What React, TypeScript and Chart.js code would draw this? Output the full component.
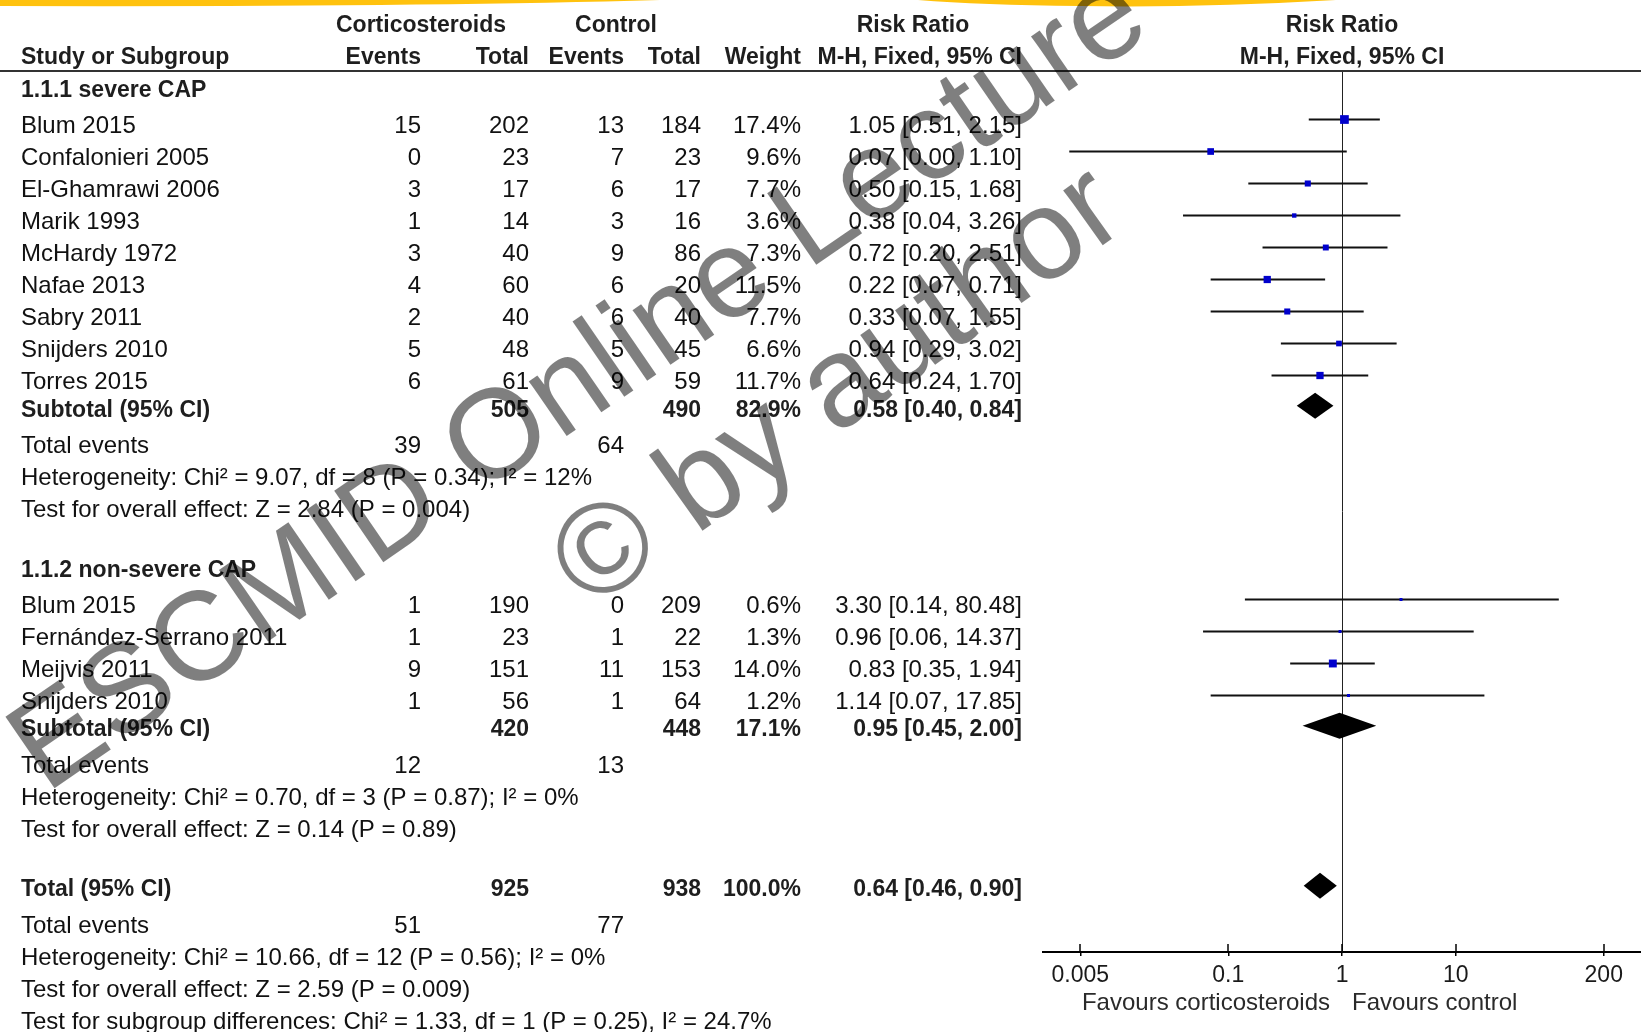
import React, { useEffect, useRef } from 'react';
import { Chart, registerables } from 'chart.js';

Chart.register(...registerables);

const FONT = '"Liberation Sans", Arial, Helvetica, sans-serif';

// ---------- data ----------
// Subgroup 1.1.1 severe CAP
const g1Names = ['Blum 2015', 'Confalonieri 2005', 'El-Ghamrawi 2006', 'Marik 1993', 'McHardy 1972', 'Nafae 2013', 'Sabry 2011', 'Snijders 2010', 'Torres 2015'];
const g1EventsC = [15, 0, 3, 1, 3, 4, 2, 5, 6];
const g1TotalC = [202, 23, 17, 14, 40, 60, 40, 48, 61];
const g1EventsK = [13, 7, 6, 3, 9, 6, 6, 5, 9];
const g1TotalK = [184, 23, 17, 16, 86, 20, 40, 45, 59];
const g1Weight = [17.4, 9.6, 7.7, 3.6, 7.3, 11.5, 7.7, 6.6, 11.7];
const g1RR = [1.05, 0.07, 0.5, 0.38, 0.72, 0.22, 0.33, 0.94, 0.64];
const g1Lo = [0.51, 0.004, 0.15, 0.04, 0.2, 0.07, 0.07, 0.29, 0.24];
const g1Hi = [2.15, 1.1, 1.68, 3.26, 2.51, 0.71, 1.55, 3.02, 1.7];

// Subgroup 1.1.2 non-severe CAP
const g2Names = ['Blum 2015', 'Fernández-Serrano 2011', 'Meijvis 2011', 'Snijders 2010'];
const g2EventsC = [1, 1, 9, 1];
const g2TotalC = [190, 23, 151, 56];
const g2EventsK = [0, 1, 11, 1];
const g2TotalK = [209, 22, 153, 64];
const g2Weight = [0.6, 1.3, 14.0, 1.2];
const g2RR = [3.3, 0.96, 0.83, 1.14];
const g2Lo = [0.14, 0.06, 0.35, 0.07];
const g2Hi = [80.48, 14.37, 1.94, 17.85];

// Pooled results: [subgroup 1, subgroup 2, overall]
const pooledLabels = ['Subtotal (95% CI)', 'Subtotal (95% CI)', 'Total (95% CI)'];
const pooledTotalC = [505, 420, 925];
const pooledTotalK = [490, 448, 938];
const pooledWeight = [82.9, 17.1, 100.0];
const pooledRR = [0.58, 0.95, 0.64];
const pooledLo = [0.4, 0.45, 0.46];
const pooledHi = [0.84, 2.0, 0.9];
const pooledEventsC = [39, 12, 51];
const pooledEventsK = [64, 13, 77];
const pooledHet = [
  'Heterogeneity: Chi² = 9.07, df = 8 (P = 0.34); I² = 12%',
  'Heterogeneity: Chi² = 0.70, df = 3 (P = 0.87); I² = 0%',
  'Heterogeneity: Chi² = 10.66, df = 12 (P = 0.56); I² = 0%',
];
const pooledTest = [
  'Test for overall effect: Z = 2.84 (P = 0.004)',
  'Test for overall effect: Z = 0.14 (P = 0.89)',
  'Test for overall effect: Z = 2.59 (P = 0.009)',
];
const subgroupTest = 'Test for subgroup differences: Chi² = 1.33, df = 1 (P = 0.25), I² = 24.7%';
const groupTitles = ['1.1.1 severe CAP', '1.1.2 non-severe CAP'];

// Axis
const tickValues = [0.005, 0.1, 1, 10, 200];
const tickLabels = ['0.005', '0.1', '1', '10', '200'];
const favourLeft = 'Favours corticosteroids';
const favourRight = 'Favours control';

// ---------- layout (row positions in row units) ----------
type Cell = { t: string; col: keyof typeof COL; bold?: boolean };
type Row = { y: number; cells: Cell[] };
const COL = { name: 21, eC: 421, tC: 529, eK: 624, tK: 701, w: 801, rr: 1022 };
const X_MIN = 0.00235;
const X_MAX = 425;
const Y_MIN = -1.516;
const Y_MAX = 26.016;
const TEXT_DY = 6.5;

const fmtCI = (r: number, l: number, h: number) => `${r.toFixed(2)} [${l.toFixed(2)}, ${h.toFixed(2)}]`;

type Study = { y: number; rr: number; lo: number; hi: number; w: number };
const rows: Row[] = [];
const studies: Study[] = [];
const pooled: { y: number; rr: number; lo: number; hi: number }[] = [];

(function build() {
  let y = -1.1;
  const groups = [
    { names: g1Names, eC: g1EventsC, tC: g1TotalC, eK: g1EventsK, tK: g1TotalK, w: g1Weight, rr: g1RR, lo: g1Lo, hi: g1Hi },
    { names: g2Names, eC: g2EventsC, tC: g2TotalC, eK: g2EventsK, tK: g2TotalK, w: g2Weight, rr: g2RR, lo: g2Lo, hi: g2Hi },
  ];
  const pooledBlock = (k: number, yy: number) => {
    rows.push({
      y: yy,
      cells: [
        { t: pooledLabels[k], col: 'name', bold: true },
        { t: String(pooledTotalC[k]), col: 'tC', bold: true },
        { t: String(pooledTotalK[k]), col: 'tK', bold: true },
        { t: pooledWeight[k].toFixed(1) + '%', col: 'w', bold: true },
        { t: fmtCI(pooledRR[k], pooledLo[k], pooledHi[k]), col: 'rr', bold: true },
      ],
    });
    pooled.push({ y: yy, rr: pooledRR[k], lo: pooledLo[k], hi: pooledHi[k] });
    yy += 1.12;
    rows.push({ y: yy, cells: [{ t: 'Total events', col: 'name' }, { t: String(pooledEventsC[k]), col: 'eC' }, { t: String(pooledEventsK[k]), col: 'eK' }] });
    yy += 1;
    rows.push({ y: yy, cells: [{ t: pooledHet[k], col: 'name' }] });
    yy += 1;
    rows.push({ y: yy, cells: [{ t: pooledTest[k], col: 'name' }] });
    return yy;
  };
  groups.forEach((g, gi) => {
    rows.push({ y, cells: [{ t: groupTitles[gi], col: 'name', bold: true }] });
    y += 1.1;
    g.names.forEach((n, i) => {
      if (i > 0) y += 1;
      rows.push({
        y,
        cells: [
          { t: n, col: 'name' },
          { t: String(g.eC[i]), col: 'eC' },
          { t: String(g.tC[i]), col: 'tC' },
          { t: String(g.eK[i]), col: 'eK' },
          { t: String(g.tK[i]), col: 'tK' },
          { t: g.w[i].toFixed(1) + '%', col: 'w' },
          { t: fmtCI(g.rr[i], g.lo[i], g.hi[i]), col: 'rr' },
        ],
      });
      studies.push({ y, rr: g.rr[i], lo: g.lo[i], hi: g.hi[i], w: g.w[i] });
    });
    y += 0.88;
    y = pooledBlock(gi, y);
    y += 1.9;
  });
  y -= 0.02;
  y = pooledBlock(2, y);
  y += 1;
  rows.push({ y, cells: [{ t: subgroupTest, col: 'name' }] });
})();

const squareSide = (w: number) => Math.max(3, 1.9 * Math.sqrt(w) + 0.8);

// ---------- drawing helpers ----------
function text(ctx: CanvasRenderingContext2D, s: string, x: number, y: number, align: CanvasTextAlign, bold = false, size = 24, color = '#111') {
  ctx.font = `${bold ? 'bold ' : ''}${size}px ${FONT}`;
  ctx.textAlign = align;
  ctx.textBaseline = 'middle';
  ctx.fillStyle = color;
  ctx.fillText(s, x, y);
}

const forestPlugin = {
  id: 'forest',
  beforeDatasetsDraw(chart: any) {
    const { ctx, chartArea } = chart;
    const xs = chart.scales.x;
    const x1 = Math.round(xs.getPixelForValue(1)) + 0.5;
    ctx.save();
    ctx.strokeStyle = '#222';
    ctx.lineWidth = 1;
    ctx.beginPath();
    ctx.moveTo(x1, chartArea.top);
    ctx.lineTo(x1, chartArea.bottom);
    ctx.stroke();
    ctx.restore();
  },
  afterDraw(chart: any) {
    const { ctx, chartArea } = chart;
    const xs = chart.scales.x;
    const ys = chart.scales.y;
    ctx.save();

    // yellow decoration at top
    ctx.fillStyle = '#FFC20E';
    ctx.beginPath();
    ctx.moveTo(0, 0);
    ctx.lineTo(660, 0);
    ctx.quadraticCurveTo(420, 7, 0, 6);
    ctx.closePath();
    ctx.fill();
    ctx.beginPath();
    ctx.moveTo(918, 0);
    ctx.lineTo(1336, 0);
    ctx.quadraticCurveTo(1200, 8, 1080, 6);
    ctx.quadraticCurveTo(980, 5, 918, 0);
    ctx.closePath();
    ctx.fill();

    // header
    const hc = '#1e1e1e';
    const h1 = 25.5;
    const h2 = 58;
    text(ctx, 'Corticosteroids', 421, h1, 'center', true, 23, hc);
    text(ctx, 'Control', 616, h1, 'center', true, 23, hc);
    text(ctx, 'Risk Ratio', 913, h1, 'center', true, 23, hc);
    const xc = xs.getPixelForValue(1);
    text(ctx, 'Risk Ratio', xc, h1, 'center', true, 23, hc);
    text(ctx, 'Study or Subgroup', COL.name, h2, 'left', true, 23, hc);
    text(ctx, 'Events', COL.eC, h2, 'right', true, 23, hc);
    text(ctx, 'Total', COL.tC, h2, 'right', true, 23, hc);
    text(ctx, 'Events', COL.eK, h2, 'right', true, 23, hc);
    text(ctx, 'Total', COL.tK, h2, 'right', true, 23, hc);
    text(ctx, 'Weight', COL.w, h2, 'right', true, 23, hc);
    text(ctx, 'M-H, Fixed, 95% CI', COL.rr, h2, 'right', true, 23, hc);
    text(ctx, 'M-H, Fixed, 95% CI', xc, h2, 'center', true, 23, hc);
    ctx.fillStyle = '#333';
    ctx.fillRect(0, chartArea.top - 1, chart.width, 2);

    // table rows
    rows.forEach((r) => {
      const py = ys.getPixelForValue(r.y) + TEXT_DY;
      r.cells.forEach((c) => {
        text(ctx, c.t, COL[c.col], py, c.col === 'name' ? 'left' : 'right', !!c.bold, c.bold ? 23 : 24, c.bold ? '#1e1e1e' : '#111');
      });
    });

    // diamonds
    ctx.fillStyle = '#000';
    pooled.forEach((p) => {
      const cy = ys.getPixelForValue(p.y) + 2;
      const h = 13;
      ctx.beginPath();
      ctx.moveTo(xs.getPixelForValue(p.lo), cy);
      ctx.lineTo(xs.getPixelForValue(p.rr), cy - h);
      ctx.lineTo(xs.getPixelForValue(p.hi), cy);
      ctx.lineTo(xs.getPixelForValue(p.rr), cy + h);
      ctx.closePath();
      ctx.fill();
    });

    // upward tick marks
    ctx.strokeStyle = '#000';
    ctx.lineWidth = 1.5;
    tickValues.forEach((v) => {
      const px = Math.round(xs.getPixelForValue(v));
      ctx.beginPath();
      ctx.moveTo(px, chartArea.bottom - 8);
      ctx.lineTo(px, chartArea.bottom);
      ctx.stroke();
    });

    // favours labels
    text(ctx, favourLeft, xc - 12, 1003, 'right', false, 24, '#2a2a2a');
    text(ctx, favourRight, xc + 10, 1003, 'left', false, 24, '#2a2a2a');

    // watermark
    ctx.fillStyle = 'rgba(0,0,0,0.5)';
    ctx.textAlign = 'left';
    ctx.textBaseline = 'alphabetic';
    ctx.save();
    ctx.font = `126px ${FONT}`;
    ctx.translate(46, 794);
    ctx.rotate((-34.5 * Math.PI) / 180);
    ctx.fillText('ESCMID Online Lecture', 0, 0);
    ctx.restore();
    ctx.save();
    ctx.font = `128px ${FONT}`;
    ctx.translate(590, 611);
    ctx.rotate((-35.5 * Math.PI) / 180);
    ctx.fillText('© by author', 0, 0);
    ctx.restore();

    ctx.restore();
  },
};

export default function App() {
  const ref = useRef<HTMLCanvasElement>(null);
  useEffect(() => {
    document.body.style.margin = '0';
    document.body.style.background = '#fff';
    const canvas = ref.current!;
    const datasets: any[] = [
      {
        type: 'scatter',
        order: 0,
        data: studies.map((s) => ({ x: s.rr, y: s.y })),
        pointStyle: 'rect',
        pointRadius: studies.map((s) => squareSide(s.w) / Math.SQRT2),
        backgroundColor: '#0000CC',
        borderWidth: 0,
      },
      ...studies.map((s) => ({
        type: 'line',
        order: 1,
        data: [
          { x: s.lo, y: s.y },
          { x: s.hi, y: s.y },
        ],
        showLine: true,
        borderColor: '#111',
        borderWidth: 2,
        pointRadius: 0,
        fill: false,
      })),
    ];
    const chart = new Chart(canvas, {
      type: 'scatter',
      data: { datasets },
      options: {
        responsive: false,
        animation: false,
        events: [],
        layout: { autoPadding: false, padding: { left: 1043, right: 0, top: 71, bottom: 0 } },
        plugins: { legend: { display: false }, tooltip: { enabled: false }, title: { display: false } },
        scales: {
          x: {
            type: 'logarithmic',
            position: 'bottom',
            min: X_MIN,
            max: X_MAX,
            afterBuildTicks: (s: any) => {
              s.ticks = tickValues.map((v) => ({ value: v }));
            },
            afterFit: (s: any) => {
              s.height = 80;
            },
            ticks: {
              autoSkip: false,
              maxRotation: 0,
              minRotation: 0,
              padding: 6,
              color: '#1a1a1a',
              font: { family: FONT, size: 23 },
              callback: (_v: any, i: number) => tickLabels[i],
            },
            grid: { drawOnChartArea: false, drawTicks: true, tickLength: 4, color: '#000', lineWidth: 1.5 },
            border: { display: true, color: '#000', width: 2 },
          },
          y: { type: 'linear', min: Y_MIN, max: Y_MAX, reverse: true, display: false },
        },
      } as any,
      plugins: [forestPlugin],
    });
    return () => chart.destroy();
  }, []);
  return <canvas ref={ref} width={1641} height={1032} style={{ display: 'block', width: 1641, height: 1032 }} />;
}
